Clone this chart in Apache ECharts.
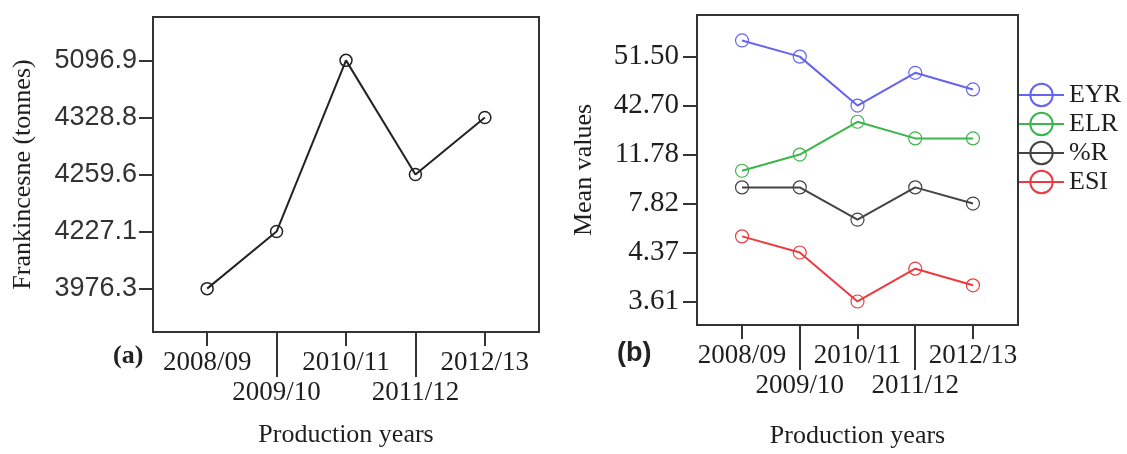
<!DOCTYPE html>
<html>
<head>
<meta charset="utf-8">
<script src="https://cdn.jsdelivr.net/npm/echarts@6/dist/echarts.min.js"></script>
<style>html,body{margin:0;padding:0;background:#fff}#c{width:1127px;height:454px}</style>
</head>
<body>
<div id="c"></div>
<script>
// ---- Data ----
const years = ['2008/09', '2009/10', '2010/11', '2011/12', '2012/13'];
// Panel (a): frankincense production (tonnes); y axis is ordinal (equally spaced labels)
const frankTicks = ['3976.3', '4227.1', '4259.6', '4328.8', '5096.9'];
const frankValues = ['3976.3', '4227.1', '5096.9', '4259.6', '4328.8'];
// Panel (b): tick labels of the ordinal "Mean values" axis (bottom to top)
const meanTicks = ['3.61', '4.37', '7.82', '11.78', '42.70', '51.50'];
// Panel (b): positions of each point on that ordinal axis (0 = 3.61 ... 5 = 51.50)
const seriesNames = ['EYR', 'ELR', '%R', 'ESI'];
const eyr = [5.33, 5.0, 4.0, 4.67, 4.33];
const elr = [2.67, 3.0, 3.67, 3.33, 3.33];
const pctR = [2.33, 2.33, 1.67, 2.33, 2.0];
const esi = [1.33, 1.0, 0.0, 0.67, 0.33];
const colors = ['#6464f2', '#3cb54a', '#444444', '#ec3b40'];

const chart = echarts.init(document.getElementById('c'));
const serif = 'Liberation Serif';
const sans = 'Liberation Sans';
const txt = '#1e1e1e';
const idx = [0, 1, 2, 3, 4];

function xAxes(grid, min, max, nameGap) {
  return [
    {
      type: 'value', gridIndex: grid, min: min, max: max, position: 'bottom',
      axisLine: { show: false, onZero: false }, splitLine: { show: false },
      axisTick: { customValues: [0, 2, 4], length: 14, lineStyle: { color: '#333', width: 2 } },
      axisLabel: { customValues: [0, 2, 4], margin: 17, fontFamily: serif, fontSize: 27, color: txt,
        formatter: v => years[Math.round(v)] },
      name: 'Production years', nameLocation: 'middle', nameGap: nameGap,
      nameTextStyle: { fontFamily: serif, fontSize: 26, color: txt, verticalAlign: 'top' }
    },
    {
      type: 'value', gridIndex: grid, min: min, max: max, position: 'bottom',
      axisLine: { show: false, onZero: false }, splitLine: { show: false },
      axisTick: { customValues: [1, 3], length: 45, lineStyle: { color: '#333', width: 2 } },
      axisLabel: { customValues: [1, 3], margin: 47, fontFamily: serif, fontSize: 27, color: txt,
        formatter: v => years[Math.round(v)] }
    }
  ];
}

const xa = xAxes(0, -0.78, 4.78, 90).concat(xAxes(1, -0.78, 4.78, 98));

const option = {
  animation: false,
  backgroundColor: '#fff',
  grid: [
    { left: 153, top: 17, width: 386, height: 315, show: true, borderColor: '#333', borderWidth: 2, backgroundColor: 'transparent' },
    { left: 697, top: 15, width: 321, height: 310, show: true, borderColor: '#333', borderWidth: 2, backgroundColor: 'transparent' }
  ],
  xAxis: xa,
  yAxis: [
    {
      type: 'value', gridIndex: 0, min: -0.76, max: 4.76,
      axisLine: { show: false, onZero: false }, splitLine: { show: false },
      axisTick: { customValues: idx, length: 14, lineStyle: { color: '#333', width: 2 } },
      axisLabel: { customValues: idx, margin: 16, fontFamily: sans, fontSize: 27, color: '#333',
        formatter: v => frankTicks[Math.round(v)] },
      name: 'Frankincesne (tonnes)', nameLocation: 'middle', nameGap: 117,
      nameTextStyle: { fontFamily: serif, fontSize: 26, color: txt }
    },
    {
      type: 'value', gridIndex: 1, min: -0.48, max: 5.85,
      axisLine: { show: false, onZero: false }, splitLine: { show: false },
      axisTick: { customValues: [0, 1, 2, 3, 4, 5], length: 14, lineStyle: { color: '#333', width: 2 } },
      axisLabel: { customValues: [0, 1, 2, 3, 4, 5], margin: 18, fontFamily: serif, fontSize: 29, color: txt,
        formatter: v => meanTicks[Math.round(v)] },
      name: 'Mean values', nameLocation: 'middle', nameGap: 100,
      nameTextStyle: { fontFamily: serif, fontSize: 26, color: txt }
    }
  ],
  legend: {
    orient: 'vertical', left: 1018, top: 82, padding: 0,
    itemWidth: 45, itemHeight: 28, itemGap: 3,
    data: seriesNames,
    textStyle: { fontFamily: serif, fontSize: 26, color: txt }
  },
  graphic: [
    { type: 'text', left: 113, top: 343, style: { text: '(a)', font: 'bold 26px "Liberation Serif"', fill: '#222' } },
    { type: 'text', left: 617, top: 340, style: { text: '(b)', font: 'bold 27px "Liberation Sans"', fill: '#222' } }
  ],
  series: [
    {
      type: 'line', name: 'Frankincense', xAxisIndex: 0, yAxisIndex: 0,
      data: frankValues.map((v, i) => [i, frankTicks.indexOf(v)]),
      symbol: 'circle', symbolSize: 12,
      lineStyle: { color: '#222', width: 2 },
      itemStyle: { color: 'rgba(0,0,0,0)', borderColor: '#222', borderWidth: 1.5 }
    }
  ].concat([eyr, elr, pctR, esi].map((arr, k) => ({
    type: 'line', name: seriesNames[k], xAxisIndex: 2, yAxisIndex: 1,
    data: arr.map((v, i) => [i, v]),
    symbol: 'circle', symbolSize: 13,
    lineStyle: { color: colors[k], width: 2 },
    itemStyle: { color: 'rgba(0,0,0,0)', borderColor: colors[k], borderWidth: 1.2 }
  })))
};
chart.setOption(option);
</script>
</body>
</html>
